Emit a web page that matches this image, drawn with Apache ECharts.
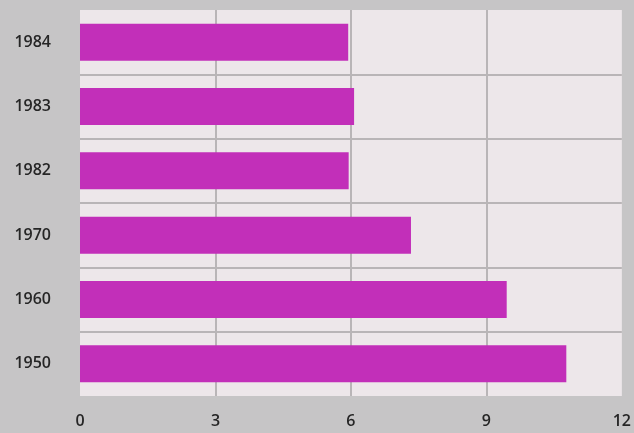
<!DOCTYPE html>
<html><head><meta charset="utf-8">
<script src="https://cdn.jsdelivr.net/npm/echarts@6/dist/echarts.min.js"></script>
<style>html,body{margin:0;padding:0;background:#c6c5c6;}#c{width:634px;height:433px;}</style>
</head><body><div id="c"></div>
<script>
const categories = ['1950', '1960', '1970', '1982', '1983', '1984'];
const values = [10.77, 9.45, 7.33, 5.95, 6.07, 5.94];
const xTicks = [0, 3, 6, 9, 12];

const chart = echarts.init(document.getElementById('c'));
chart.setOption({
  backgroundColor: '#c6c5c6',
  animation: false,
  grid: { left: 80, right: 11, top: 10, bottom: 37, show: true, backgroundColor: '#ede7ea', borderWidth: 0 },
  xAxis: {
    type: 'value', min: xTicks[0], max: xTicks[xTicks.length - 1], interval: 3,
    axisLine: { show: false }, axisTick: { show: false },
    splitLine: { show: true, showMinLine: false, showMaxLine: false, lineStyle: { color: '#b9b5b7', width: 2 } },
    axisLabel: { color: '#262626', fontSize: 16, fontWeight: 600, fontFamily: 'Open Sans', margin: 17 }
  },
  yAxis: {
    type: 'category', data: categories,
    axisLine: { show: false }, axisTick: { show: false },
    splitLine: { show: true, showMinLine: false, showMaxLine: false, lineStyle: { color: '#b9b5b7', width: 2 } },
    axisLabel: { color: '#262626', fontSize: 16, fontWeight: 600, fontFamily: 'Open Sans', margin: 29 }
  },
  series: [{
    type: 'bar', data: values, barWidth: 37,
    itemStyle: { color: '#c22fb9' }
  }]
});
</script></body></html>
